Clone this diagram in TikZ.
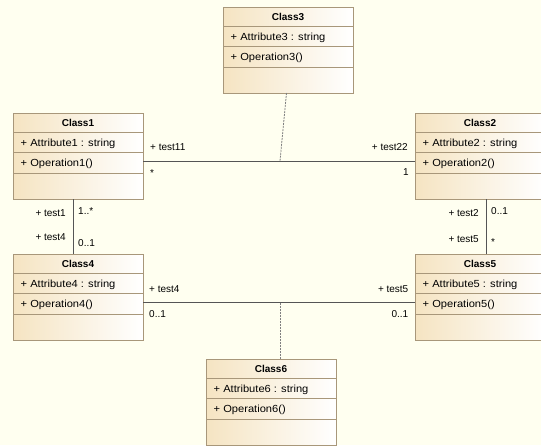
\documentclass[tikz,border=0pt]{standalone}
\usepackage{fontspec}
\setmainfont{Liberation Sans}
\newfontfamily\attrfont[FakeStretch=1.08]{Liberation Sans}
\usetikzlibrary{shadows}
\definecolor{bg}{HTML}{FFFFF0}
\definecolor{boxborder}{HTML}{A8977A}
\definecolor{boxtan}{HTML}{F5E4C2}
\definecolor{conn}{HTML}{555555}
\definecolor{linkgray}{HTML}{808080}
\tikzset{
  classbox/.style={draw=boxborder, line width=1pt, left color=boxtan, right color=white,
    minimum width=130pt, minimum height=86pt, inner sep=0pt, outer sep=0pt, anchor=north west,
    drop shadow={shadow xshift=1pt, shadow yshift=-1pt, fill=boxborder!80, opacity=1}},
  sepline/.style={draw=boxborder, line width=1pt},
  ctitle/.style={font=\bfseries\fontsize{10}{12}\selectfont, inner sep=0pt, text height=7.2pt, text depth=0pt},
  cmember/.style={font=\attrfont\fontsize{10.3}{12}\selectfont, inner sep=0pt, text height=7.4pt, text depth=0pt, anchor=west},
  role/.style={font=\fontsize{10}{12}\selectfont, inner sep=0pt},
  assoc/.style={draw=conn, line width=1pt},
  link/.style={draw=linkgray, line width=0.8pt, dash pattern=on 2pt off 1pt},
}
\newcommand\umlclass[3]{%
  \node[classbox] (c#1) at (#2,#3) {};
  \draw[sepline] ([yshift=-19.5pt]c#1.north west) -- ([yshift=-19.5pt]c#1.north east);
  \draw[sepline] ([yshift=-39.5pt]c#1.north west) -- ([yshift=-39.5pt]c#1.north east);
  \draw[sepline] ([yshift=-60.5pt]c#1.north west) -- ([yshift=-60.5pt]c#1.north east);
  \node[ctitle] (t#1) at ([yshift=-9.8pt]c#1.north) {Class#1};
  \node[cmember] (a#1) at ([xshift=7.5pt,yshift=-29.5pt]c#1.north west) {+ Attribute#1 : string};
  \node[cmember] (o#1) at ([xshift=7.5pt,yshift=-50pt]c#1.north west) {+ Operation#1()};
}
\begin{document}
\begin{tikzpicture}[x=1pt,y=-1pt]
  \fill[bg] (0,0) rectangle (541,445);
  \useasboundingbox (0,0) rectangle (541,445);
  \clip (0,0) rectangle (541,445);

  \umlclass{1}{13}{113}
  \umlclass{2}{415}{113}
  \umlclass{3}{223}{7}
  \umlclass{4}{13}{254}
  \umlclass{5}{415}{254}
  \umlclass{6}{206}{359}

  % Class1 -- Class2
  \coordinate (h12) at (0,161);
  \draw[assoc] (c1.east |- h12) -- (c2.west |- h12);
  \node[role, anchor=base west] (r11) at (150,150.7) {+ test11};
  \node[role, anchor=base west] (m11) at (150,176) {*};
  \node[role, anchor=base east] (r22) at (408,150.7) {+ test22};
  \node[role, anchor=base east] (m22) at (409,175) {1};

  % Class3 link
  \coordinate (j12) at (280,161);
  \draw[link] ([xshift=-1.5pt]c3.south) -- (j12);

  % Class1 -- Class4
  \draw[assoc] ([xshift=-4.7pt]c1.south) -- ([xshift=-4.7pt]c4.north);
  \node[role, anchor=base east] (r1) at (66,216.7) {+ test1};
  \node[role, anchor=base west] (m1) at (78,214) {1..*};
  \node[role, anchor=base east] (r4) at (66,240.5) {+ test4};
  \node[role, anchor=base west] (m4) at (78,246.5) {0..1};

  % Class2 -- Class5
  \draw[assoc] ([xshift=6.7pt]c2.south) -- ([xshift=6.7pt]c5.north);
  \node[role, anchor=base east] (r2) at (479,216.7) {+ test2};
  \node[role, anchor=base west] (m2) at (491,214) {0..1};
  \node[role, anchor=base east] (r5) at (479,242.5) {+ test5};
  \node[role, anchor=base west] (m5) at (491,245.5) {*};

  % Class4 -- Class5
  \coordinate (h45) at (0,302.7);
  \draw[assoc] (c4.east |- h45) -- (c5.west |- h45);
  \node[role, anchor=base west] (r44) at (149,292.7) {+ test4};
  \node[role, anchor=base west] (m44) at (149,317.3) {0..1};
  \node[role, anchor=base east] (r55) at (408.5,292.7) {+ test5};
  \node[role, anchor=base east] (m55) at (408.5,317.3) {0..1};

  % Class6 link
  \coordinate (j45) at (280,302.7);
  \draw[link] (j45) -- (c6.north -| j45);
\end{tikzpicture}
\end{document}
